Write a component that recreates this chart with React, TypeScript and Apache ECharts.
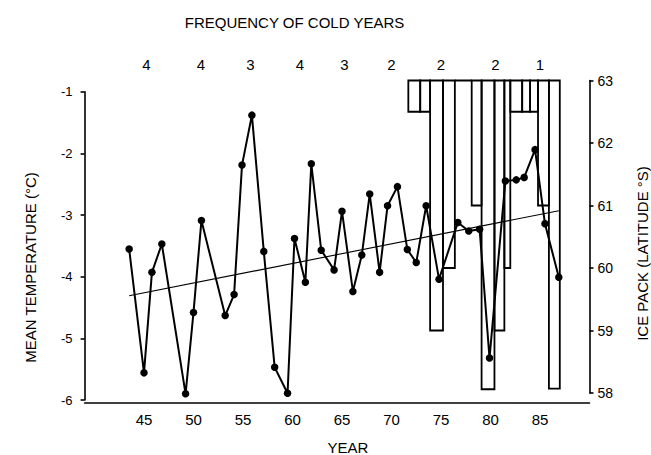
import React, { useEffect, useRef } from "react";
import * as echarts from "echarts";

const FONT = '"Liberation Sans", Arial, Helvetica, sans-serif';

// Mean temperature series (year offset within 1900s, °C)
const years = [43.5, 45.0, 45.8, 46.8, 49.2, 50.0, 50.8, 53.2, 54.1, 54.9, 55.9, 57.1, 58.2, 59.5, 60.2, 61.3, 61.9, 62.9, 64.2, 65.0, 66.1, 67.0, 67.8, 68.8, 69.6, 70.6, 71.6, 72.5, 73.5, 74.8, 76.7, 77.8, 78.9, 79.9, 81.5, 82.6, 83.4, 84.5, 85.5, 86.9];
const temps = [-3.55, -5.56, -3.93, -3.47, -5.9, -4.58, -3.09, -4.63, -4.29, -2.19, -1.38, -3.59, -5.47, -5.89, -3.38, -4.09, -2.17, -3.57, -3.89, -2.94, -4.24, -3.65, -2.66, -3.93, -2.85, -2.54, -3.56, -3.77, -2.85, -4.04, -3.12, -3.26, -3.23, -5.32, -2.45, -2.43, -2.39, -1.94, -3.14, -4.01];

// Linear trend end points
const trendYears = [43.5, 86.9];
const trendTemps = [-4.31, -2.93];

// Ice pack latitude bars (hanging from 63°S)
const iceStart = [71.7, 72.9, 73.9, 75.2, 76.4, 78.1, 79.1, 80.4, 81.4, 82.0, 83.2, 84.0, 84.8, 85.9];
const iceEnd = [72.9, 73.9, 75.2, 76.4, 78.1, 79.1, 80.4, 81.4, 82.0, 83.2, 84.0, 84.8, 85.9, 87.0];
const iceLat = [62.5, 62.5, 59.0, 60.0, 63.0, 61.0, 58.06, 59.0, 60.0, 62.5, 62.5, 62.5, 61.0, 58.07];
const ICE_TOP = 63;

// Frequency of cold years (per ~5-year period)
const freqYears = [45.25, 50.75, 55.75, 60.75, 65.25, 70, 75, 80.5, 85];
const freqValues = [4, 4, 3, 4, 3, 2, 2, 2, 1];

// Tick labels
const yearTicks = [45, 50, 55, 60, 65, 70, 75, 80, 85];

export default function App() {
  const ref = useRef<HTMLDivElement>(null);

  useEffect(() => {
    document.body.style.margin = "0";
    if (!ref.current) return;
    const chart = echarts.init(ref.current, undefined, { renderer: "svg" });
    const black = "#000";
    const axisLineStyle = { color: black, width: 1.6 };

    const option: any = {
      animation: false,
      backgroundColor: "#fff",
      textStyle: { fontFamily: FONT, color: black },
      grid: [
        { left: 84.6, right: 61.5, top: 91.7, bottom: 55 },
        { left: 84.6, right: 61.5, top: 80.5, bottom: 62 },
      ],
      xAxis: [
        {
          gridIndex: 0,
          type: "value",
          min: 39,
          max: 90,
          interval: 1,
          offset: 3,
          axisLine: { lineStyle: axisLineStyle },
          axisTick: { show: false },
          splitLine: { show: false },
          axisLabel: {
            margin: 9,
            color: black,
            fontSize: 15,
            fontFamily: FONT,
            formatter: (v: number) =>
              yearTicks.some((t) => Math.abs(t - v) < 1e-6) ? String(Math.round(v)) : "",
          },
        },
        {
          gridIndex: 0,
          type: "value",
          position: "top",
          min: 39,
          max: 90,
          interval: 0.25,
          axisLine: { show: false },
          axisTick: { show: false },
          splitLine: { show: false },
          axisLabel: {
            margin: 20,
            color: black,
            fontSize: 15,
            fontFamily: FONT,
            formatter: (v: number) => {
              const i = freqYears.findIndex((f) => Math.abs(f - v) < 1e-6);
              return i >= 0 ? String(freqValues[i]) : "";
            },
          },
        },
        { gridIndex: 1, type: "value", min: 39, max: 90, show: false },
      ],
      yAxis: [
        {
          gridIndex: 0,
          type: "value",
          min: -6,
          max: -1,
          interval: 1,
          axisLine: { show: true, lineStyle: axisLineStyle },
          axisTick: { show: true, length: 4, lineStyle: axisLineStyle },
          splitLine: { show: false },
          axisLabel: { margin: 12, color: black, fontSize: 13, fontFamily: FONT },
        },
        {
          gridIndex: 1,
          type: "value",
          position: "right",
          min: 58,
          max: 63,
          interval: 1,
          axisLine: { show: true, lineStyle: axisLineStyle },
          axisTick: { show: true, length: 4, lineStyle: axisLineStyle },
          splitLine: { show: false },
          axisLabel: { margin: 8, color: black, fontSize: 14, fontFamily: FONT },
        },
      ],
      series: [
        {
          type: "custom",
          xAxisIndex: 2,
          yAxisIndex: 1,
          z: 2,
          encode: { x: [0, 1], y: 2 },
          data: iceStart.map((s, i) => [s, iceEnd[i], iceLat[i]]),
          renderItem: (params: any, api: any) => {
            const a = api.coord([api.value(0), ICE_TOP]);
            const b = api.coord([api.value(1), api.value(2)]);
            return {
              type: "rect",
              shape: { x: a[0], y: a[1], width: b[0] - a[0], height: b[1] - a[1] },
              style: { fill: "none", stroke: black, lineWidth: 1.8 },
            };
          },
        },
        {
          type: "line",
          xAxisIndex: 0,
          yAxisIndex: 0,
          z: 3,
          data: trendYears.map((y, i) => [y, trendTemps[i]]),
          symbol: "none",
          lineStyle: { color: black, width: 1.1 },
        },
        {
          type: "line",
          xAxisIndex: 0,
          yAxisIndex: 0,
          z: 4,
          data: years.map((y, i) => [y, temps[i]]),
          symbol: "circle",
          symbolSize: 7.5,
          itemStyle: { color: black },
          lineStyle: { color: black, width: 2 },
        },
      ],
      graphic: [
        {
          type: "text",
          x: 294.5,
          y: 22,
          style: {
            text: "FREQUENCY OF COLD YEARS",
            fill: black,
            font: `15px ${FONT}`,
            align: "center",
            verticalAlign: "middle",
            textAlign: "center",
            textVerticalAlign: "middle",
          },
        },
        {
          type: "text",
          x: 348,
          y: 447.5,
          style: {
            text: "YEAR",
            fill: black,
            font: `15px ${FONT}`,
            align: "center",
            verticalAlign: "middle",
            textAlign: "center",
            textVerticalAlign: "middle",
          },
        },
        {
          type: "text",
          x: 30,
          y: 267.5,
          rotation: Math.PI / 2,
          style: {
            text: "MEAN TEMPERATURE (°C)",
            fill: black,
            font: `15px ${FONT}`,
            align: "center",
            verticalAlign: "middle",
            textAlign: "center",
            textVerticalAlign: "middle",
          },
        },
        {
          type: "text",
          x: 642,
          y: 253.5,
          rotation: Math.PI / 2,
          style: {
            text: "ICE PACK (LATITUDE °S)",
            fill: black,
            font: `15px ${FONT}`,
            align: "center",
            verticalAlign: "middle",
            textAlign: "center",
            textVerticalAlign: "middle",
          },
        },
      ],
    };

    chart.setOption(option);
    return () => chart.dispose();
  }, []);

  return <div ref={ref} style={{ width: 651, height: 455 }} />;
}
